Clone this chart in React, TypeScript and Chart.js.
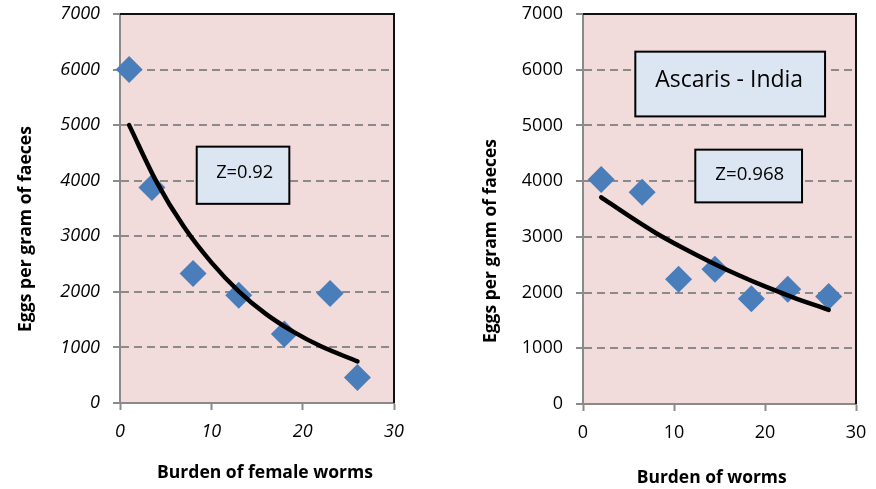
import React, { useEffect, useRef } from "react";
import { Chart, registerables } from "chart.js";

Chart.register(...registerables);

// ---- data ----
const leftWormBurden = [1, 3.5, 8, 13, 18, 23, 26];
const leftEggs = [6000, 3880, 2330, 1940, 1240, 1970, 460];
const leftTrendX = [1, 4, 7, 10, 13, 16, 19, 22, 26];
const leftTrendY = [5000, 3980, 3170, 2530, 2010, 1600, 1280, 1020, 750];

const rightWormBurden = [2, 6.5, 10.5, 14.5, 18.5, 22.5, 27];
const rightEggs = [4030, 3800, 2240, 2420, 1890, 2060, 1930];
const rightTrendX = [2, 5, 8, 11, 14, 17, 20, 23, 27];
const rightTrendY = [3710, 3380, 3070, 2800, 2550, 2320, 2110, 1920, 1690];

const yTickValues = [0, 1000, 2000, 3000, 4000, 5000, 6000, 7000];
const xTickValues = [0, 10, 20, 30];

const yTitle = "Eggs per gram of faeces";
const leftXTitle = "Burden of female worms";
const rightXTitle = "Burden of worms";
const leftZLabel = "Z=0.92";
const rightZLabel = "Z=0.968";
const rightPanelLabel = "Ascaris - India";

const FAMILY = "'Open Sans', 'DejaVu Sans', sans-serif";
const GRID = "#8a8a8a";

type Box = {
  x0: number; x1: number; y0: number; y1: number;
  tx: number; ty: number; text: string; textWidth: number;
};

type PanelOpts = {
  width: number;
  height: number;
  yAxisWidth: number;
  xAxisHeight: number;
  padTop: number;
  padRight: number;
  italic: boolean;
  xs: number[];
  ys: number[];
  tx: number[];
  ty: number[];
  xTitle: string;
  xTitlePos: [number, number, number];
  yTitlePos: [number, number, number];
  boxes: Box[];
};

function fitFont(ctx: CanvasRenderingContext2D, text: string, w: number, weight: string, style: string) {
  ctx.font = `${style} ${weight} 100px ${FAMILY}`;
  const m = ctx.measureText(text).width;
  const size = (100 * w) / m;
  return `${style} ${weight} ${size.toFixed(2)}px ${FAMILY}`;
}

function makeConfig(p: PanelOpts): any {
  const decor = {
    id: "decor",
    beforeDraw(chart: any) {
      const { ctx, chartArea: a } = chart;
      ctx.save();
      ctx.fillStyle = "#f2dcdb";
      ctx.fillRect(a.left, a.top, a.right - a.left, a.bottom - a.top);
      ctx.restore();
    },
    beforeDatasetsDraw(chart: any) {
      const { ctx, chartArea: a } = chart;
      ctx.save();
      ctx.strokeStyle = "#111";
      ctx.lineWidth = 2;
      ctx.beginPath();
      ctx.moveTo(a.left, a.top);
      ctx.lineTo(a.right, a.top);
      ctx.lineTo(a.right, a.bottom);
      ctx.stroke();
      ctx.restore();
    },
    afterDraw(chart: any) {
      const { ctx } = chart;
      const xs = chart.scales.x;
      const ys = chart.scales.y;
      ctx.save();
      // text boxes
      for (const b of p.boxes) {
        const l = xs.getPixelForValue(b.x0);
        const r = xs.getPixelForValue(b.x1);
        const t = ys.getPixelForValue(b.y0);
        const btm = ys.getPixelForValue(b.y1);
        ctx.fillStyle = "#dce6f2";
        ctx.fillRect(l, t, r - l, btm - t);
        ctx.strokeStyle = "#000";
        ctx.lineWidth = 2;
        ctx.strokeRect(l, t, r - l, btm - t);
        ctx.font = fitFont(ctx, b.text, b.textWidth, "normal", "normal");
        ctx.fillStyle = "#000";
        ctx.textAlign = "center";
        ctx.textBaseline = "alphabetic";
        const asc = ctx.measureText(b.text).actualBoundingBoxAscent;
        ctx.fillText(b.text, xs.getPixelForValue(b.tx), ys.getPixelForValue(b.ty) + asc / 2);
      }
      // axis titles
      ctx.fillStyle = "#000";
      ctx.textAlign = "center";
      ctx.textBaseline = "middle";
      const [xcx, xcy, xw] = p.xTitlePos;
      ctx.font = fitFont(ctx, p.xTitle, xw, "bold", "normal");
      ctx.fillText(p.xTitle, xcx, xcy);
      const [ycx, ycy, yw] = p.yTitlePos;
      ctx.font = fitFont(ctx, yTitle, yw, "bold", "normal");
      ctx.translate(ycx, ycy);
      ctx.rotate(-Math.PI / 2);
      ctx.fillText(yTitle, 0, 0);
      ctx.restore();
    },
  };

  const tickFont = { family: FAMILY, size: 18, style: p.italic ? "italic" : "normal" };
  const noPad = (s: any) => {
    s.paddingTop = 0;
    s.paddingBottom = 0;
    s.paddingLeft = 0;
    s.paddingRight = 0;
  };

  return {
    type: "scatter",
    data: {
      datasets: [
        {
          label: "trend",
          data: p.tx.map((x, i) => ({ x, y: p.ty[i] })),
          showLine: true,
          pointRadius: 0,
          borderColor: "#000",
          borderWidth: 4.5,
          borderCapStyle: "round",
          tension: 0.4,
          cubicInterpolationMode: "monotone",
          fill: false,
          order: 0,
          clip: false,
        },
        {
          label: "observed",
          data: p.xs.map((x, i) => ({ x, y: p.ys[i] })),
          pointStyle: "rectRot",
          pointRadius: 13.5,
          pointBackgroundColor: "#4a7ebb",
          pointBorderColor: "#4a7ebb",
          pointBorderWidth: 0,
          order: 1,
          clip: false,
        },
      ],
    },
    options: {
      responsive: false,
      animation: false,
      devicePixelRatio: 1,
      layout: { padding: { left: 0, top: p.padTop, right: p.padRight, bottom: 0 } },
      plugins: { legend: { display: false }, tooltip: { enabled: false } },
      scales: {
        x: {
          type: "linear",
          min: 0,
          max: 30,
          afterFit: (s: any) => { s.height = p.xAxisHeight; noPad(s); },
          afterBuildTicks: (s: any) => { s.ticks = xTickValues.map((v) => ({ value: v })); },
          ticks: { font: tickFont, color: "#000", padding: 11, callback: (v: any) => String(v) },
          grid: { color: "rgba(0,0,0,0)", tickColor: GRID, tickLength: 7, tickWidth: 2 },
          border: { color: GRID, width: 2 },
        },
        y: {
          type: "linear",
          min: 0,
          max: 7000,
          afterFit: (s: any) => { s.width = p.yAxisWidth; noPad(s); },
          afterBuildTicks: (s: any) => { s.ticks = yTickValues.map((v) => ({ value: v })); },
          ticks: { font: tickFont, color: "#000", padding: 13, callback: (v: any) => String(v) },
          grid: {
            color: (c: any) => (c.tick && (c.tick.value === 0 || c.tick.value === 7000) ? "rgba(0,0,0,0)" : GRID),
            lineWidth: 2,
            tickBorderDash: [],
            tickColor: GRID,
            tickLength: 7,
            tickWidth: 2,
          },
          border: { color: GRID, width: 2, dash: [8, 5] },
        },
      },
    },
    plugins: [decor],
  };
}

function Panel({ opts, left }: { opts: PanelOpts; left: number }) {
  const ref = useRef<HTMLCanvasElement | null>(null);
  useEffect(() => {
    if (!ref.current) return;
    const chart = new Chart(ref.current, makeConfig(opts));
    return () => chart.destroy();
  }, []);
  return (
    <canvas
      ref={ref}
      width={opts.width}
      height={opts.height}
      style={{ position: "absolute", left, top: 0, width: opts.width, height: opts.height }}
    />
  );
}

const leftPanel: PanelOpts = {
  width: 440,
  height: 489,
  yAxisWidth: 120,
  xAxisHeight: 86,
  padTop: 14,
  padRight: 46,
  italic: true,
  xs: leftWormBurden,
  ys: leftEggs,
  tx: leftTrendX,
  ty: leftTrendY,
  xTitle: leftXTitle,
  xTitlePos: [265, 473, 216],
  yTitlePos: [25.5, 229, 206],
  boxes: [
    { x0: 8.4, x1: 18.54, y0: 4613, y1: 3584, tx: 13.65, ty: 4164, text: leftZLabel, textWidth: 57 },
  ],
};

const rightPanel: PanelOpts = {
  width: 436,
  height: 489,
  yAxisWidth: 143,
  xAxisHeight: 85,
  padTop: 14,
  padRight: 20,
  italic: false,
  xs: rightWormBurden,
  ys: rightEggs,
  tx: rightTrendX,
  ty: rightTrendY,
  xTitle: rightXTitle,
  xTitlePos: [271.7, 478, 150],
  yTitlePos: [51.5, 241, 204],
  boxes: [
    { x0: 5.75, x1: 26.6, y0: 6324, y1: 5162, tx: 16.06, ty: 5845, text: rightPanelLabel, textWidth: 148 },
    { x0: 12.34, x1: 24.07, y0: 4565, y1: 3619, tx: 18.33, ty: 4139, text: rightZLabel, textWidth: 69 },
  ],
};

export default function App() {
  return (
    <div style={{ position: "fixed", left: 0, top: 0, width: 876, height: 489, background: "#fff" }}>
      <Panel opts={leftPanel} left={0} />
      <Panel opts={rightPanel} left={440} />
    </div>
  );
}
